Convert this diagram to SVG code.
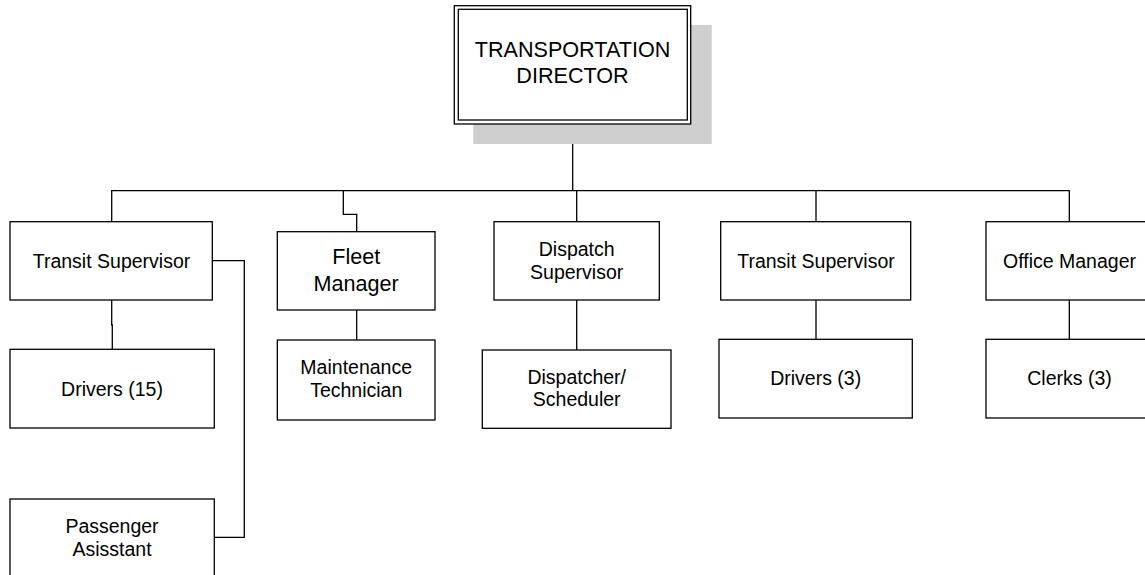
<svg xmlns="http://www.w3.org/2000/svg" width="1145" height="575" viewBox="0 0 1145 575">
<style>
.box{fill:#fff;stroke:#000;stroke-width:1.3}
.ln{fill:none;stroke:#000;stroke-width:1.3}
text{font-family:"Liberation Sans",Arial,sans-serif;font-size:19.5px;fill:#000;text-anchor:middle}
.big{font-size:21.6px}
</style>
<rect width="1145" height="575" fill="#fff"/>
<g id="connectors">
<path class="ln" d="M572.7 124 V190.7"/>
<path class="ln" d="M111.7 221.7 V190.7 H1069.3 V221.7"/>
<path class="ln" d="M343.3 190.7 V214.3 H356.7 V231.7"/>
<path class="ln" d="M576.7 190.7 V221.7"/>
<path class="ln" d="M816 190.7 V221.7"/>
<path class="ln" d="M111.7 300 V325 H112.3 V349.3"/>
<path class="ln" d="M212.3 260.7 H244.3 V537.3 H214.3"/>
<path class="ln" d="M356.7 310 V340"/>
<path class="ln" d="M576.7 300 V350"/>
<path class="ln" d="M816 300 V339.3"/>
<path class="ln" d="M1069.3 300 V339.3"/>
</g>
<g id="director">
<rect x="473.3" y="25" width="238.4" height="119" fill="#cfcfcf"/>
<rect class="box" x="454.3" y="5.7" width="236.4" height="118.3"/>
<rect class="box" x="458.3" y="9.3" width="229" height="110.7"/>
<text class="big" x="572.5" y="57.3">TRANSPORTATION</text>
<text class="big" x="572.5" y="83.3">DIRECTOR</text>
</g>
<g id="transit1">
<rect class="box" x="10" y="221.7" width="202.3" height="78.3"/>
<text x="111.5" y="268">Transit Supervisor</text>
</g>
<g id="drivers15">
<rect class="box" x="10" y="349.3" width="204.3" height="78.7"/>
<text x="112" y="396">Drivers (15)</text>
</g>
<g id="passenger">
<rect class="box" x="10" y="499" width="204.3" height="80"/>
<text x="112" y="533.3">Passenger</text>
<text x="112" y="556.3">Asisstant</text>
</g>
<g id="fleet">
<rect class="box" x="277.3" y="231.7" width="157.7" height="78.3"/>
<text class="big" x="356.2" y="264">Fleet</text>
<text class="big" x="356.2" y="290.7">Manager</text>
</g>
<g id="maintenance">
<rect class="box" x="277.3" y="340" width="157.7" height="80"/>
<text x="356.2" y="374.3">Maintenance</text>
<text x="356.2" y="397.3">Technician</text>
</g>
<g id="dispatch">
<rect class="box" x="494" y="221.7" width="165.3" height="78.3"/>
<text x="576.7" y="256">Dispatch</text>
<text x="576.7" y="278.5">Supervisor</text>
</g>
<g id="dispatcher">
<rect class="box" x="482.3" y="350" width="188.7" height="78.3"/>
<text x="576.7" y="384">Dispatcher/</text>
<text x="576.7" y="406">Scheduler</text>
</g>
<g id="transit2">
<rect class="box" x="720.7" y="221.7" width="190" height="78.3"/>
<text x="816" y="268">Transit Supervisor</text>
</g>
<g id="drivers3">
<rect class="box" x="719" y="339.3" width="193.3" height="78.7"/>
<text x="815.7" y="384.5">Drivers (3)</text>
</g>
<g id="office">
<rect class="box" x="986" y="221.7" width="167" height="78.3"/>
<text x="1069.5" y="268">Office Manager</text>
</g>
<g id="clerks">
<rect class="box" x="986" y="339.3" width="167" height="78.7"/>
<text x="1069.5" y="384.5">Clerks (3)</text>
</g>
</svg>
